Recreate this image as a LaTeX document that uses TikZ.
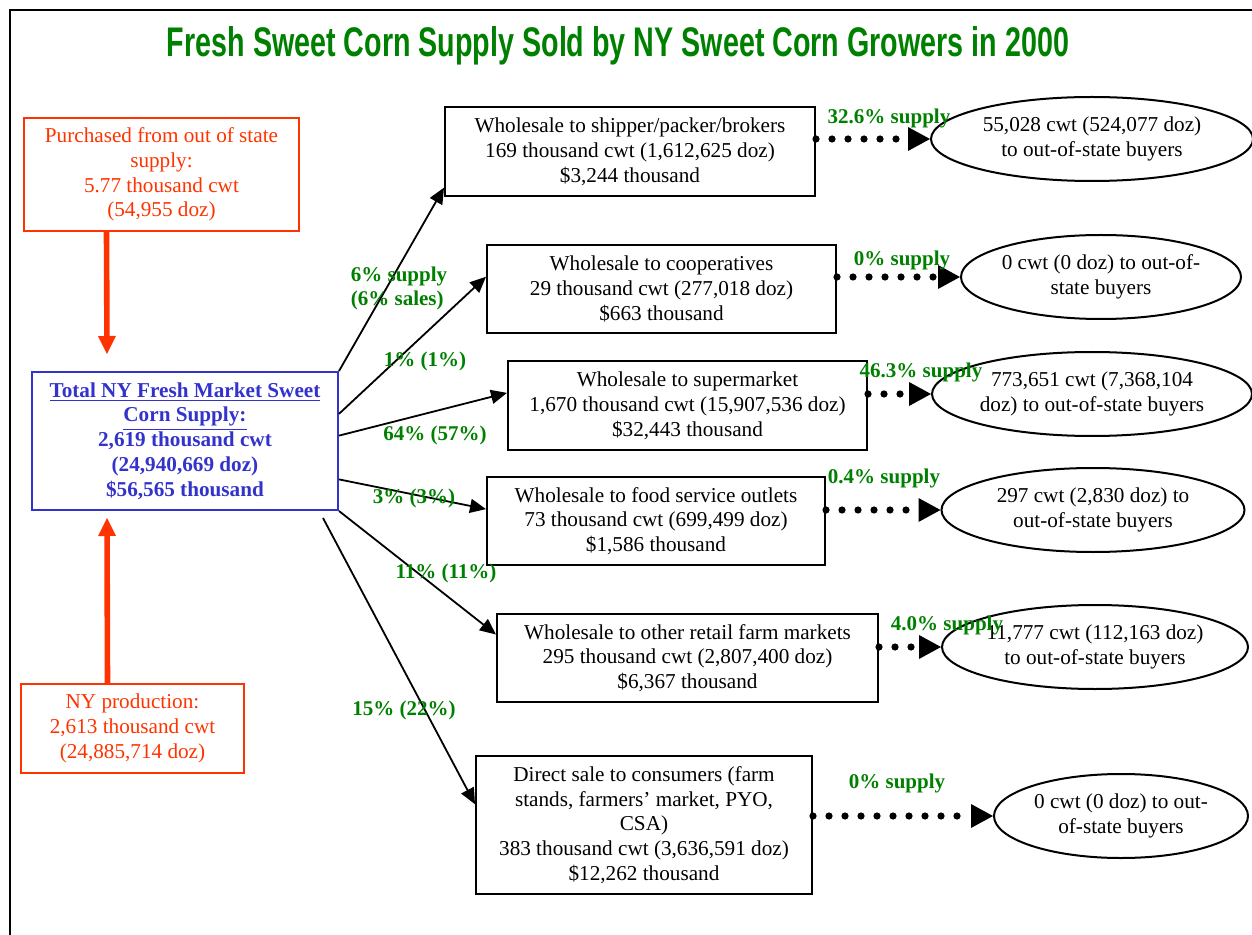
\documentclass[tikz,border=0pt]{standalone}
\usepackage{fontspec}
\usepackage{graphicx}
\setmainfont{Liberation Serif}
\newfontfamily\titlefont{Liberation Sans}
\usetikzlibrary{arrows.meta}
\usetikzlibrary{shapes.geometric}

\definecolor{cornred}{RGB}{255,51,0}
\definecolor{cornblue}{RGB}{51,51,204}
\definecolor{corngreen}{RGB}{0,128,0}

\tikzset{
  source/.style = {draw = cornred, text = cornred, line width = 1pt,
    align = center, inner sep = 0pt},
  outlet/.style = {draw, line width = 1pt, align = center, inner sep = 0pt},
  buyer/.style = {ellipse, draw, line width = 1pt, align = center,
    inner sep = 0pt, minimum height = 42pt},
  share/.style = {text = corngreen, align = left,
    font = \fontsize{10.5}{12}\selectfont\bfseries},
  flow/.style = {-{Triangle[width = 7pt, length = 8pt]}, line width = 0.9pt},
  export/.style = {line width = 3.6pt, line cap = round,
    dash pattern = on 0pt off 8pt,
    -{Triangle[width = 12pt, length = 11pt, line width = 0pt]}},
  supply/.style = {draw = cornred, line width = 2.8pt,
    -{Triangle[width = 9pt, length = 9pt, line width = 0pt]}}
}

\begin{document}
\begin{tikzpicture}[x = 0.5pt, y = -0.5pt,
  every node/.append style = {font = \fontsize{10.6}{12.4}\selectfont}]
  \useasboundingbox (0, 0) rectangle (1252, 935);
  \draw[line width = 1.2pt] (10, 935) -- (10, 10) -- (1252, 10);

  \node[text = corngreen, anchor = base] (title) at (618, 57)
  {\resizebox{451pt}{15pt}{\titlefont\bfseries Fresh Sweet Corn Supply Sold
      by NY Sweet Corn Growers in 2000}};

  \node[source, minimum width = 137.5pt, minimum height = 56.5pt] (buy)
  at (161.5, 174.5) {Purchased from out of state\\supply:\\5.77 thousand
    cwt\\(54,955 doz)};
  \node[source, minimum width = 111.5pt, minimum height = 44.5pt] (prod)
  at (132.5, 728.5) {NY production:\\2,613 thousand cwt\\(24,885,714 doz)};
  \node[draw = cornblue, text = cornblue, line width = 1pt, align = center,
  inner sep = 0pt, minimum width = 153pt, minimum height = 69pt,
  font = \fontsize{10.6}{12.4}\selectfont\bfseries] (total) at (185, 441)
  {\underline{Total NY Fresh Market Sweet}\\\underline{Corn Supply:}\\2,619
    thousand cwt\\(24,940,669 doz)\\\$56,565 thousand};

  \node[outlet, minimum width = 185pt, minimum height = 44.5pt] (ship)
  at (630, 151.5) {Wholesale to shipper/packer/brokers\\169 thousand cwt
    (1,612,625 doz)\\\$3,244 thousand};
  \node[outlet, minimum width = 174.5pt, minimum height = 44pt] (coop)
  at (661.5, 289) {Wholesale to cooperatives\\29 thousand cwt (277,018
    doz)\\\$663 thousand};
  \node[outlet, minimum width = 179.5pt, minimum height = 44.5pt] (market)
  at (687.5, 405.5) {Wholesale to supermarket\\1,670 thousand cwt
    (15,907,536 doz)\\\$32,443 thousand};
  \node[outlet, minimum width = 169pt, minimum height = 44pt] (food)
  at (656, 521) {Wholesale to food service outlets\\73 thousand cwt
    (699,499 doz)\\\$1,586 thousand};
  \node[outlet, minimum width = 190.5pt, minimum height = 44pt] (retail)
  at (687.5, 658) {Wholesale to other retail farm markets\\295 thousand cwt
    (2,807,400 doz)\\\$6,367 thousand};
  \node[outlet, minimum width = 168pt, minimum height = 69pt] (direct)
  at (644, 825) {Direct sale to consumers (farm\\stands, farmers’ market,
    PYO,\\CSA)\\383 thousand cwt (3,636,591 doz)\\\$12,262 thousand};

  \node[buyer, minimum width = 161pt] (e1) at (1092, 139)
  {\makebox[0pt]{55,028 cwt (524,077 doz)}\\\makebox[0pt]{to out-of-state
      buyers}};
  \node[buyer, minimum width = 140pt] (e2) at (1101, 277)
  {\makebox[0pt]{0 cwt (0 doz) to out-of-}\\\makebox[0pt]{state buyers}};
  \node[buyer, minimum width = 160pt] (e3) at (1092, 394)
  {\makebox[0pt]{773,651 cwt (7,368,104}\\\makebox[0pt]{doz) to
      out-of-state buyers}};
  \node[buyer, minimum width = 151.5pt] (e4) at (1093, 510)
  {\makebox[0pt]{297 cwt (2,830 doz) to}\\\makebox[0pt]{out-of-state
      buyers}};
  \node[buyer, minimum width = 153pt] (e5) at (1095, 647)
  {\makebox[0pt]{11,777 cwt (112,163 doz)}\\\makebox[0pt]{to out-of-state
      buyers}};
  \node[buyer, minimum width = 127pt] (e6) at (1121, 816)
  {\makebox[0pt]{0 cwt (0 doz) to out-}\\\makebox[0pt]{of-state buyers}};

  \draw[supply] ([xshift = -27.5pt]buy.south)
  -- ([xshift = -39pt, yshift = 8.5pt]total.north);
  \draw[supply] ([xshift = -12.5pt]prod.north)
  -- ([xshift = -39pt, yshift = -3.5pt]total.south);

  \draw[flow] (total.north east) -- (ship.191);
  \draw[flow] (total.10) -- (coop.176);
  \draw[flow] (total.2) -- (market.176);
  \draw[flow] (total.-14) -- (food.176);
  \draw[flow] (total.south east) -- (retail.173);
  \draw[flow] ([xshift = -8pt, yshift = -3.5pt]total.south east)
  -- (direct.173);

  \draw[export] (ship.east |- e1.west) -- (e1.west);
  \draw[export] (coop.east |- e2.west) -- (e2.west);
  \draw[export] (market.east |- e3.west) -- (e3.west);
  \draw[export] (food.east |- e4.west) -- (e4.west);
  \draw[export] (retail.east |- e5.west) -- (e5.west);
  \draw[export] (direct.east |- e6.west) -- (e6.west);

  \node[share] (s1) at (889, 118) {32.6\% supply};
  \node[share] (s2) at (902, 260) {0\% supply};
  \node[share] (s3) at (921, 372) {46.3\% supply};
  \node[share] (s4) at (884, 478) {0.4\% supply};
  \node[share] (s5) at (947, 625) {4.0\% supply};
  \node[share] (s6) at (897, 783) {0\% supply};

  \node[share] (f1) at (399, 288) {6\% supply\\(6\% sales)};
  \node[share] (f2) at (425, 361) {1\% (1\%)};
  \node[share] (f3) at (435, 435) {64\% (57\%)};
  \node[share] (f4) at (414, 498) {3\% (3\%)};
  \node[share] (f5) at (446, 573) {11\% (11\%)};
  \node[share] (f6) at (404, 710) {15\% (22\%)};
\end{tikzpicture}
\end{document}
